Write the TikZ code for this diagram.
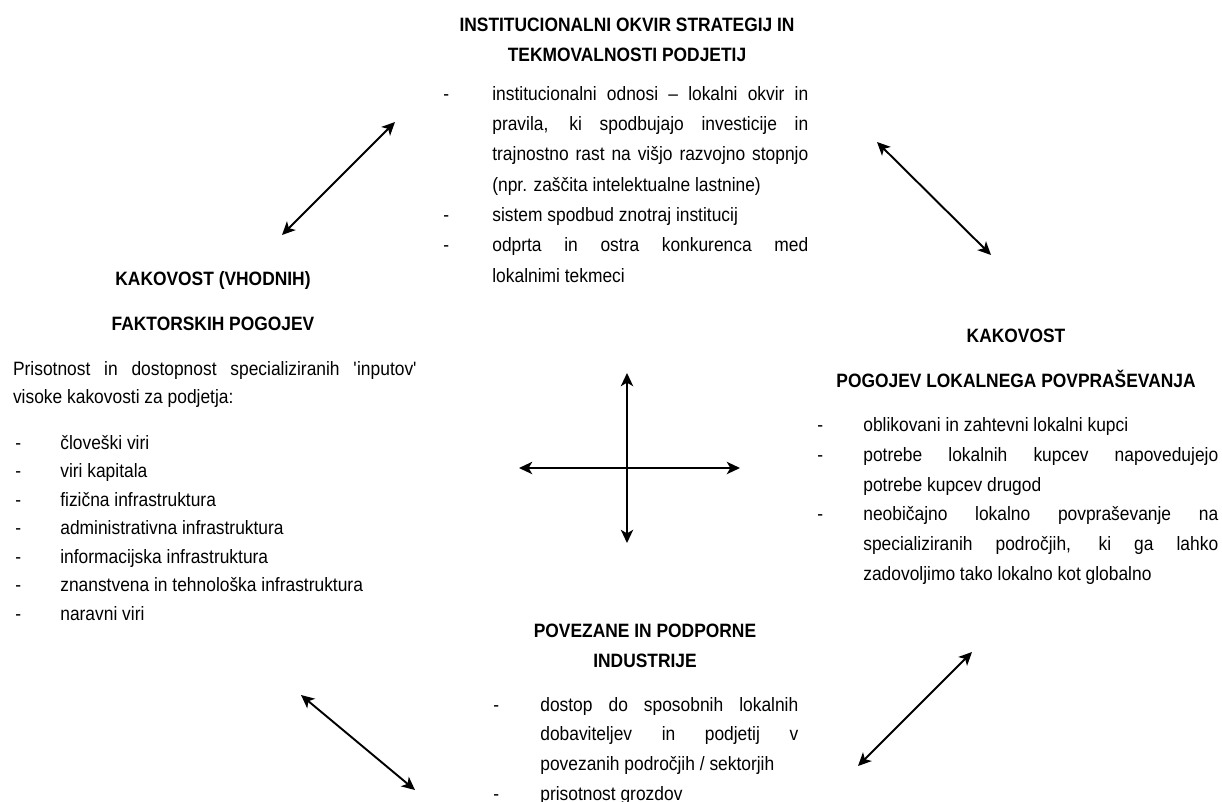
\documentclass[tikz,border=0pt]{standalone}
\usepackage{fontspec}
\setmainfont{Liberation Sans}[FakeStretch=0.9]
\usetikzlibrary{arrows.meta}

\newcommand{\jline}[2]{\makebox[#1][s]{#2}}
\newcommand{\itemdash}[1]{\makebox[#1][l]{-}}

\begin{document}
\begin{tikzpicture}[x = 0.02cm, y = -0.02cm,
						link/.style={{Stealth[length=7.5pt, width=7pt, inset=2pt]}-{Stealth[length=7.5pt, width=7pt, inset=2pt]}, line width=1.1pt},
						head/.style={anchor=base, inner sep=0pt, align=center, font=\fontsize{11}{#1}\selectfont\bfseries},
						body/.style={anchor=base west, inner sep=0pt, align=left, font=\fontsize{11}{#1}\selectfont},
						]
	
		\useasboundingbox (0, 0) rectangle (1222, 801);
		\clip (0, 0) rectangle (1222, 801);
		
		% Text blocks (nodes sit on the baseline of their last line)
		
		% Top block
		\node[head=16.8pt] (topHead) at (627, 61) {INSTITUCIONALNI OKVIR STRATEGIJ IN\\TEKMOVALNOSTI PODJETIJ};
		\node[body=17.25pt] (topList) at (443, 282) {%
			\itemdash{0.98cm}\jline{6.32cm}{institucionalni odnosi – lokalni okvir in}\\
			\hspace*{0.98cm}\jline{6.32cm}{pravila, ki spodbujajo investicije in}\\
			\hspace*{0.98cm}\jline{6.32cm}{trajnostno rast na višjo razvojno stopnjo}\\
			\hspace*{0.98cm}(npr. zaščita intelektualne lastnine)\\
			\itemdash{0.98cm}sistem spodbud znotraj institucij\\
			\itemdash{0.98cm}\jline{6.32cm}{odprta in ostra konkurenca med}\\
			\hspace*{0.98cm}lokalnimi tekmeci};
		
		% Left block
		\node[head=25.6pt] (leftHead) at (213, 330) {KAKOVOST (VHODNIH)\\FAKTORSKIH POGOJEV};
		\node[body=15.9pt] (leftText) at (12.7, 403) {%
			\jline{8.08cm}{Prisotnost in dostopnost specializiranih \textquotesingle inputov\textquotesingle}\\
			visoke kakovosti za podjetja:};
		\node[body=16.17pt] (leftList) at (15, 620) {%
			\itemdash{0.9cm}človeški viri\\
			\itemdash{0.9cm}viri kapitala\\
			\itemdash{0.9cm}fizična infrastruktura\\
			\itemdash{0.9cm}administrativna infrastruktura\\
			\itemdash{0.9cm}informacijska infrastruktura\\
			\itemdash{0.9cm}znanstvena in tehnološka infrastruktura\\
			\itemdash{0.9cm}naravni viri};
		
		% Right block
		\node[head=25.6pt] (rightHead) at (1016, 387) {KAKOVOST\\POGOJEV LOKALNEGA POVPRAŠEVANJA};
		\node[body=16.85pt] (rightList) at (817, 580) {%
			\itemdash{0.92cm}oblikovani in zahtevni lokalni kupci\\
			\itemdash{0.92cm}\jline{7.1cm}{potrebe lokalnih kupcev napovedujejo}\\
			\hspace*{0.92cm}potrebe kupcev drugod\\
			\itemdash{0.92cm}\jline{7.1cm}{neobičajno lokalno povpraševanje na}\\
			\hspace*{0.92cm}\jline{7.1cm}{specializiranih področjih, ki ga lahko}\\
			\hspace*{0.92cm}zadovoljimo tako lokalno kot globalno};
		
		% Bottom block
		\node[head=17.07pt] (bottomHead) at (645, 667) {POVEZANE IN PODPORNE\\INDUSTRIJE};
		\node[body=16.8pt] (bottomList) at (493, 800) {%
			\itemdash{0.94cm}\jline{5.16cm}{dostop do sposobnih lokalnih}\\
			\hspace*{0.94cm}\jline{5.16cm}{dobaviteljev in podjetij v}\\
			\hspace*{0.94cm}povezanih področjih / sektorjih\\
			\itemdash{0.94cm}prisotnost grozdov};
		
		% Arrow end points
		\coordinate (tl1) at (282, 235);
		\coordinate (tl2) at (395, 122);
		\coordinate (tr1) at (877, 142);
		\coordinate (tr2) at (991, 255);
		\coordinate (bl1) at (301, 695);
		\coordinate (bl2) at (415, 790);
		\coordinate (br1) at (858, 766);
		\coordinate (br2) at (972, 652);
		\coordinate (cN) at (627, 373);
		\coordinate (cS) at (627, 543);
		\coordinate (cW) at (519, 468);
		\coordinate (cE) at (740, 468);
		
		% Arrows between the blocks
		\draw[link] (tl1) -- (tl2);
		\draw[link] (tr1) -- (tr2);
		\draw[link] (bl1) -- (bl2);
		\draw[link] (br1) -- (br2);
		
		% Centre cross
		\draw[link] (cN) -- (cS);
		\draw[link] (cW) -- (cE);
		
	\end{tikzpicture}
\end{document}
